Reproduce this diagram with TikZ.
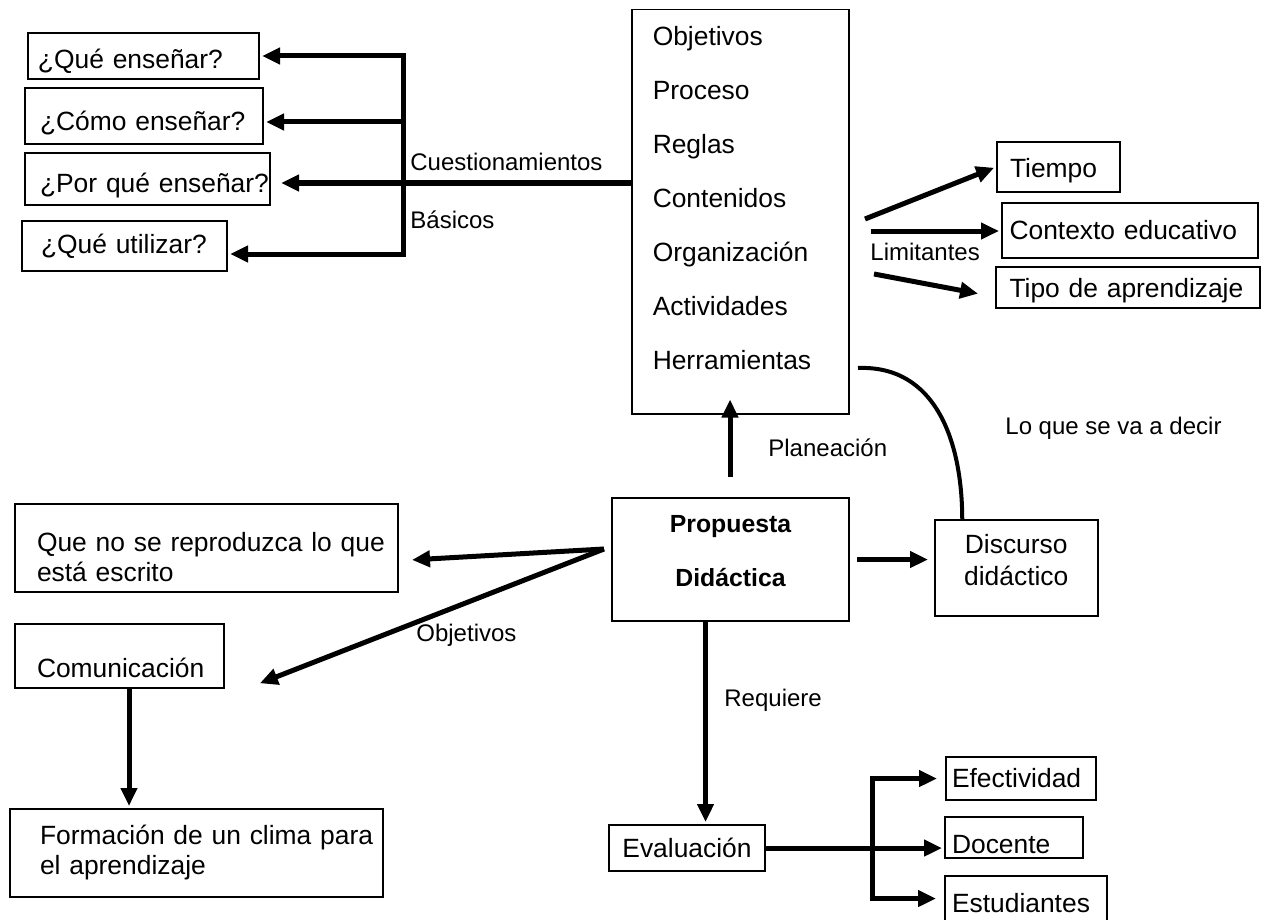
\documentclass[tikz,border=0pt]{standalone}
\usepackage{fontspec}
\setmainfont{Liberation Sans}
\usetikzlibrary{arrows.meta}

\newcommand{\boxfont}{\fontsize{13.2}{15}\selectfont}
\newcommand{\labfont}{\fontsize{12}{14}\selectfont}

\begin{document}
\begin{tikzpicture}[x=0.5pt, y=-0.5pt,
  box/.style={draw, line width=1pt, inner sep=0pt, anchor=north west, font=\boxfont},
  lbox/.style={box, align=left},
  lab/.style={anchor=west, inner sep=0pt, font=\labfont},
  arr/.style={line width=2.5pt, -{Triangle[length=9pt,width=8pt]}, shorten >=1pt}]

\useasboundingbox (0,0) rectangle (1264,920);

% preguntas
\node[lbox, minimum width=115.5pt, minimum height=23pt, text width=105.5pt, text height=15pt, text depth=2.8pt] (que) at (27,32) {\mbox{¿Qué enseñar?}};
\node[lbox, minimum width=119pt, minimum height=28pt, text width=104pt, text height=17pt, text depth=2.8pt] (como) at (24,87) {\mbox{¿Cómo enseñar?}};
\node[lbox, minimum width=122.5pt, minimum height=26pt, text width=107.5pt, text height=16pt, text depth=2.8pt] (porque) at (24,152) {\mbox{¿Por qué enseñar?}};
\node[lbox, minimum width=102.5pt, minimum height=25pt, text width=83.5pt] (utilizar) at (21,220) {\mbox{¿Qué utilizar?}};

% planeacion
\node[box, line width=0.75pt, minimum width=108.5pt, minimum height=202pt, align=left, text width=87.5pt] (plan) at (631,9)
  {Objetivos\\[12pt]Proceso\\[12pt]Reglas\\[12pt]Contenidos\\[12pt]Organización\\[12pt]Actividades\\[12pt]Herramientas\\[-1pt]\mbox{}};

% limitantes
\node[lbox, minimum width=61.5pt, minimum height=25pt, text width=48.5pt, text height=13.6pt, text depth=2.8pt] (tiempo) at (996,141) {Tiempo};
\node[lbox, minimum width=128pt, minimum height=27.5pt, text width=120.5pt] (contexto) at (1001,202) {\mbox{Contexto educativo}};
\node[lbox, minimum width=132pt, minimum height=20.5pt, text width=118.5pt, text height=12.6pt, text depth=2.8pt] (tipo) at (995,266) {\mbox{Tipo de aprendizaje}};

\node[box, minimum width=118.5pt, minimum height=61.5pt, align=center, font=\fontsize{12.4}{27}\selectfont\bfseries] (propuesta) at (611,497) {Propuesta\\Didáctica\\[-18pt]\mbox{}};
\node[box, line width=0.75pt, minimum width=81.5pt, minimum height=48pt, align=center, font=\fontsize{13.2}{16}\selectfont] (discurso) at (934,519) {Discurso\\didáctico\\[-8pt]\mbox{}};

% objetivos
\node[lbox, minimum width=191.5pt, minimum height=44pt, text width=169.5pt, text height=18.7pt] (queno) at (14,503) {\mbox{Que no se reproduzca lo que}\\está escrito};
\node[lbox, minimum width=104.5pt, minimum height=32pt, text width=82.5pt, text height=24pt, text depth=3pt] (comunicacion) at (14,623) {\mbox{Comunicación}};
\node[lbox, minimum width=186.5pt, minimum height=44pt, text width=156.5pt] (formacion) at (9,808) {\mbox{Formación de un clima para}\\el aprendizaje};

% evaluacion
\node[box, minimum width=78pt, minimum height=23pt] (evaluacion) at (608,824) {Evaluación};
\node[lbox, minimum width=75pt, minimum height=21.5pt, text width=69pt] (efectividad) at (945,756) {\mbox{Efectividad}};
\node[lbox, minimum width=69pt, minimum height=19.5pt, text width=62pt, text height=18pt, text depth=2.5pt] (docente) at (944,816) {Docente};
\node[lbox, minimum width=81pt, minimum height=22.5pt, text width=74pt, text height=16pt, text depth=2.5pt] (estudiantes) at (944,875) {\mbox{Estudiantes}};

% etiquetas
\node[lab] (cuest) at (410,162) {Cuestionamientos};
\node[lab] (basicos) at (410,220) {Básicos};
\node[lab] (limit) at (870,252) {Limitantes};
\node[lab] (decir) at (1005,428) {Lo que se va a decir};
\node[lab] (planea) at (768,448) {Planeación};
\node[lab] (objet) at (416,635) {Objetivos};
\node[lab] (requiere) at (724,700) {Requiere};

% conectores
\coordinate (fork) at (403,183);
\coordinate (forkC) at (403,122);
\coordinate (forkB) at (403,254);
\draw[arr, shorten >=5pt] (plan.west |- fork) -- (porque.east |- fork);
\draw[arr] (fork) |- (que.east);
\draw[arr] (forkC) -- (como.east |- forkC);
\draw[arr] (fork) |- (utilizar.east |- forkB);

\coordinate (lim1) at (865,219);
\coordinate (lim2) at (871,231);
\coordinate (lim3) at (874,274);
\draw[arr] (lim1) -- (tiempo.west);
\draw[arr] (lim2) -- (contexto.west |- lim2);
\draw[arr] (lim3) -- ([xshift=-7.5pt,yshift=-3.25pt]tipo.west);

\coordinate (talk) at (858,368);
\draw[line width=2pt] (talk) .. controls (935,365) and (962,440) .. ([xshift=-27pt]discurso.north);

\coordinate (pl0) at (730,477);
\draw[arr, shorten >=-7.5pt] (pl0) -- (pl0 |- plan.south);
\draw[arr, shorten <=3.5pt, shorten >=3pt] (propuesta.east) -- (discurso.west |- propuesta.east);

\coordinate (obj) at (604,549);
\draw[arr] (obj) -- ([xshift=5.5pt,yshift=-6pt]queno.east);
\draw[arr] (obj) -- ([xshift=16.5pt,yshift=-14pt]comunicacion.east);
\draw[arr] (comunicacion.south) ++(4.75pt,0pt) coordinate (c1) -- (c1 |- formacion.north);

\draw[arr] (propuesta.south) ++(-12.5pt,0pt) coordinate (r0) -- (r0 |- evaluacion.north);
\draw[arr] (evaluacion.east) -- (docente.west |- evaluacion.east);
\coordinate (br) at (872,843);
\draw[arr, shorten >=4pt] (br) |- (efectividad.west);
\draw[arr, shorten >=4pt] (br) |- (estudiantes.west);

\end{tikzpicture}
\end{document}
